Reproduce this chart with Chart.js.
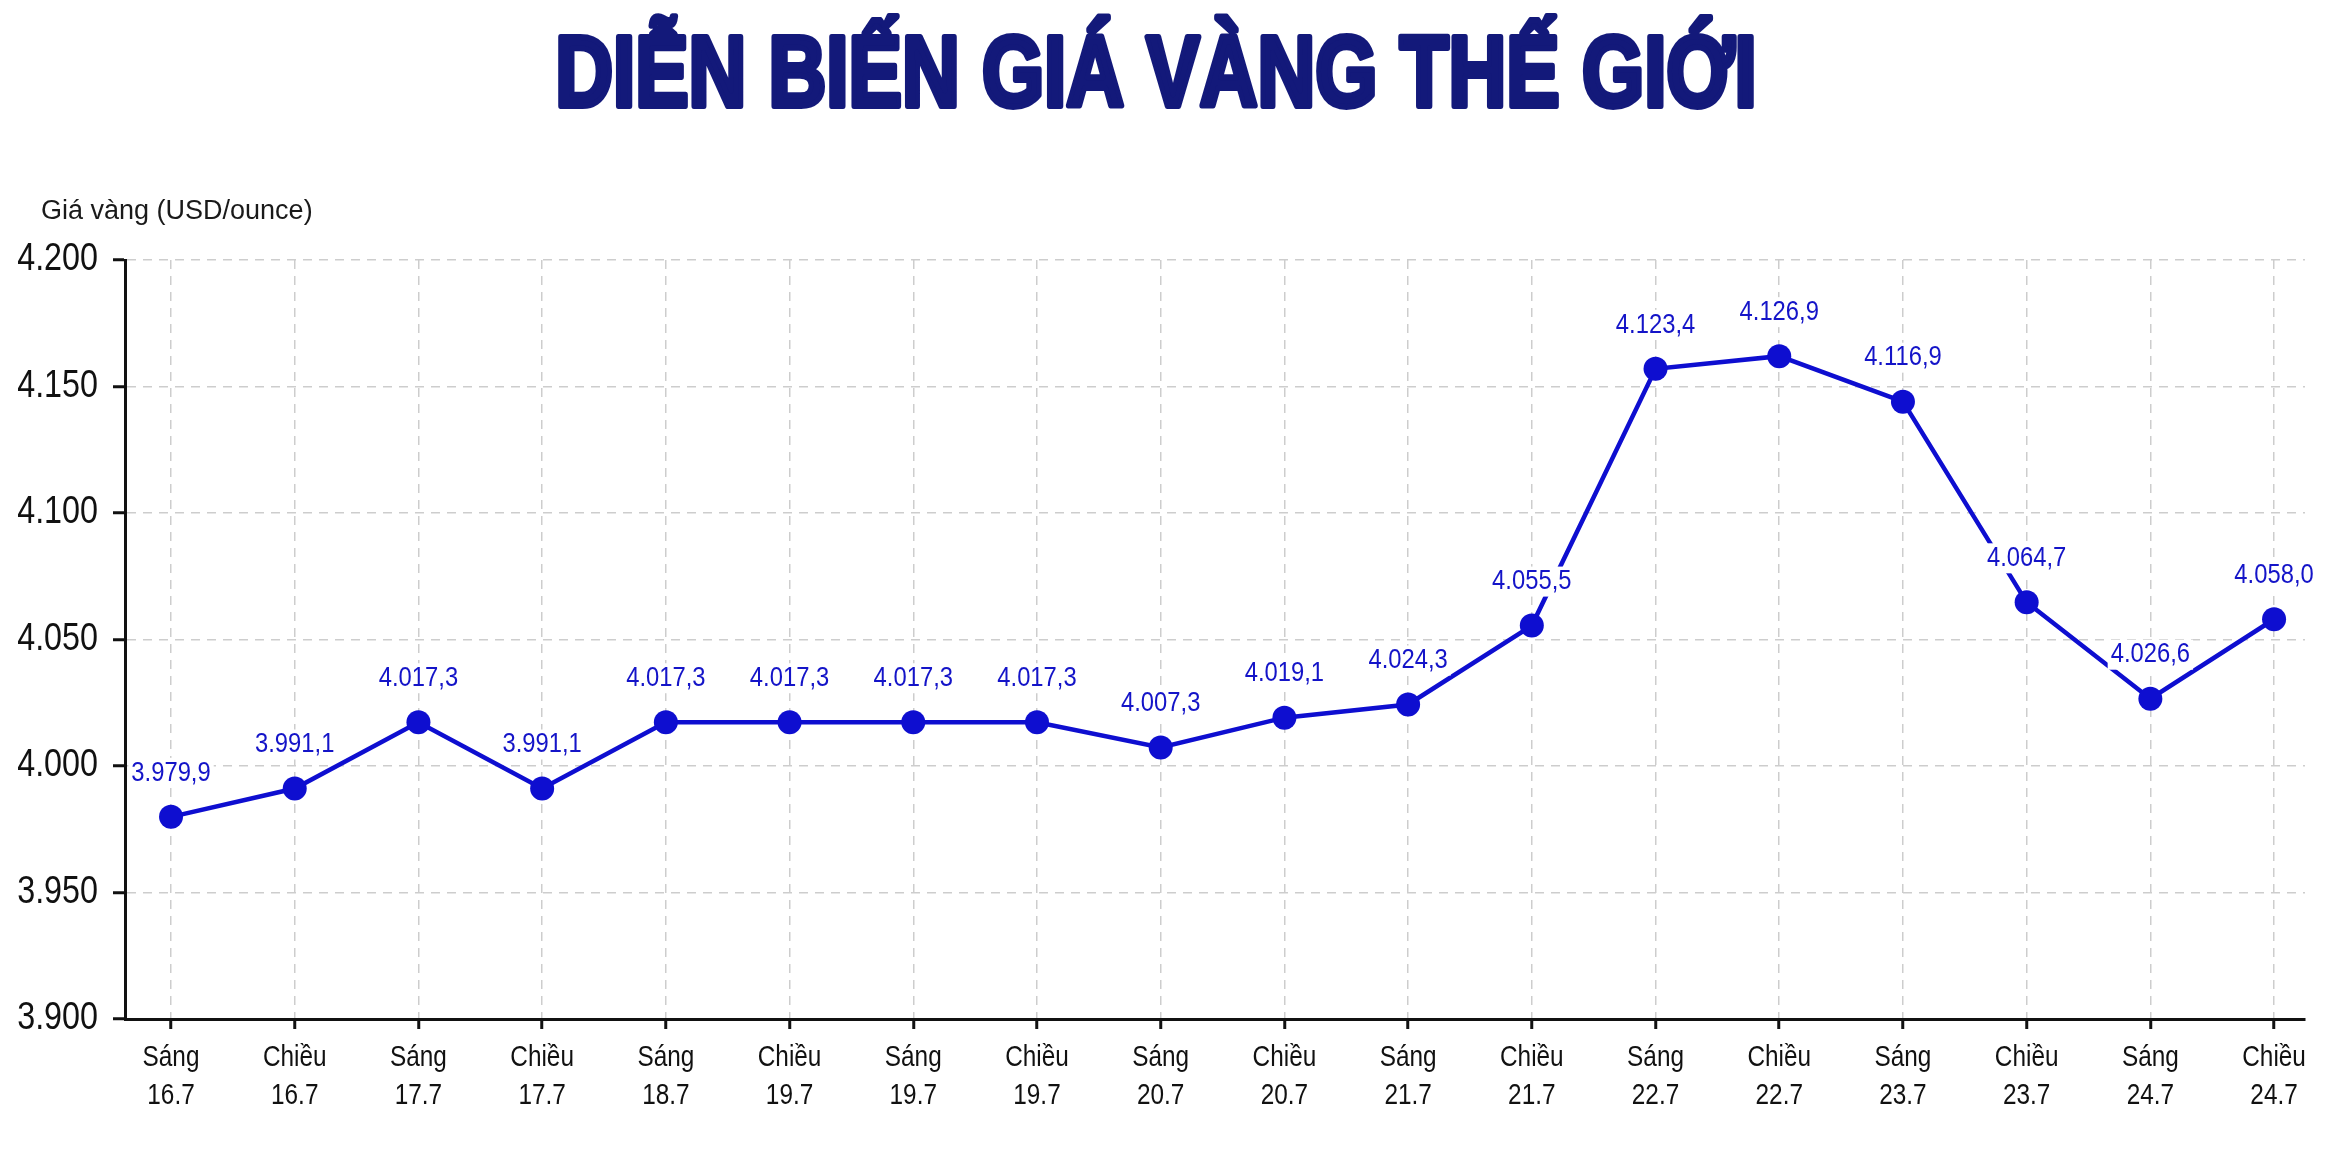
<!DOCTYPE html>
<html lang="vi">
<head>
<meta charset="utf-8">
<title>Diễn biến giá vàng thế giới</title>
<script src="https://cdn.jsdelivr.net/npm/chart.js@4.4.1/dist/chart.umd.min.js"></script>
<style>
  html, body { margin: 0; padding: 0; background: #fff; }
  #wrap { width: 2332px; height: 1150px; }
</style>
</head>
<body>
<div id="wrap"><canvas id="chart" width="2332" height="1150"></canvas></div>
<script>
// --- du lieu ---
const tieuDe = 'DIỄN BIẾN GIÁ VÀNG THẾ GIỚI';
const donVi = 'Giá vàng (USD/ounce)';
const buoi = ['Sáng', 'Chiều', 'Sáng', 'Chiều', 'Sáng', 'Chiều', 'Sáng', 'Chiều', 'Sáng',
              'Chiều', 'Sáng', 'Chiều', 'Sáng', 'Chiều', 'Sáng', 'Chiều', 'Sáng', 'Chiều'];
const ngay = ['16.7', '16.7', '17.7', '17.7', '18.7', '19.7', '19.7', '19.7', '20.7',
              '20.7', '21.7', '21.7', '22.7', '22.7', '23.7', '23.7', '24.7', '24.7'];
// vi tri cac diem doc tu hinh (3 diem dinh nam cao hon nhan in tren hinh)
const giaVang = [3979.9, 3991.1, 4017.3, 3991.1, 4017.3, 4017.3, 4017.3, 4017.3, 4007.3,
                 4019.1, 4024.3, 4055.5, 4157.0, 4162.0, 4144.0, 4064.7, 4026.6, 4058.0];
// nhan gia in tren hinh
const nhanGia = ['3.979,9', '3.991,1', '4.017,3', '3.991,1', '4.017,3', '4.017,3', '4.017,3', '4.017,3', '4.007,3',
                 '4.019,1', '4.024,3', '4.055,5', '4.123,4', '4.126,9', '4.116,9', '4.064,7', '4.026,6', '4.058,0'];
const yMin = 3900;
const yMax = 4200;
const yBuoc = 50;

const SANS = '"Liberation Sans", Arial, sans-serif';
const XANH = '#0e0ed0';

function dinhDang(v) {
    return String(v).replace(/\B(?=(\d{3})+(?!\d))/g, '.');
}

// chu hep (khong co font Arial Narrow nen ep ngang)
function veChuHep(ctx, text, x, y, sx) {
    ctx.save();
    ctx.translate(x, y);
    ctx.scale(sx, 1);
    ctx.fillText(text, 0, 0);
    ctx.restore();
}

// ve nhan gia phia tren moi diem
const nhanDiem = {
    id: 'nhanDiem',
    afterDatasetsDraw(chart) {
        const ctx = chart.ctx;
        const meta = chart.getDatasetMeta(0);
        ctx.save();
        ctx.font = '28px ' + SANS;
        ctx.textAlign = 'center';
        ctx.textBaseline = 'middle';
        meta.data.forEach((pt, i) => {
            const text = nhanGia[i];
            const w = ctx.measureText(text).width * 0.85;
            const y = pt.y - 44;
            ctx.fillStyle = '#fff';
            ctx.fillRect(pt.x - w / 2 - 3, y - 15, w + 6, 30);
            ctx.fillStyle = '#1414c8';
            veChuHep(ctx, text, pt.x, y, 0.85);
        });
        ctx.restore();
    }
};

// nhan truc (ve lai bang chu hep)
const nhanTruc = {
    id: 'nhanTruc',
    afterDraw(chart) {
        const ctx = chart.ctx;
        const sx = chart.scales.x;
        const sy = chart.scales.y;
        ctx.save();
        ctx.fillStyle = '#111';
        ctx.textBaseline = 'middle';

        ctx.font = '38px ' + SANS;
        ctx.textAlign = 'right';
        sy.ticks.forEach(t => {
            veChuHep(ctx, dinhDang(t.value), sy.right - 27, sy.getPixelForValue(t.value), 0.85);
        });

        ctx.font = '29px ' + SANS;
        ctx.textAlign = 'center';
        sx.ticks.forEach(t => {
            const i = t.value;
            if (!Number.isInteger(i) || !buoi[i]) return;
            const px = sx.getPixelForValue(i);
            veChuHep(ctx, buoi[i], px, sx.top + 39, 0.84);
            veChuHep(ctx, ngay[i], px, sx.top + 77, 0.84);
        });
        ctx.restore();
    }
};

// tieu de + don vi truc tung
const tieuDePlugin = {
    id: 'tieuDe',
    afterDraw(chart) {
        const ctx = chart.ctx;
        const area = chart.chartArea;
        ctx.save();
        ctx.font = 'bold 100px ' + SANS;
        ctx.textAlign = 'center';
        ctx.textBaseline = 'alphabetic';
        ctx.fillStyle = '#13197a';
        ctx.strokeStyle = '#13197a';
        ctx.lineWidth = 6;
        ctx.lineJoin = 'round';
        ctx.translate(chart.width / 2 - 10, 106);
        ctx.scale(0.8, 1);
        ctx.fillText(tieuDe, 0, 0);
        ctx.strokeText(tieuDe, 0, 0);
        ctx.restore();

        ctx.save();
        ctx.font = '27px ' + SANS;
        ctx.textAlign = 'left';
        ctx.textBaseline = 'middle';
        ctx.fillStyle = '#1a1a1a';
        ctx.fillText(donVi, area.left - 84, area.top - 48);
        ctx.restore();
    }
};

const ctx = document.getElementById('chart').getContext('2d');
new Chart(ctx, {
    type: 'line',
    data: {
        datasets: [{
            data: giaVang.map((v, i) => ({ x: i, y: v })),
            borderColor: XANH,
            borderWidth: 4.5,
            pointRadius: 12,
            pointBackgroundColor: XANH,
            pointBorderWidth: 0,
            tension: 0,
            clip: false
        }]
    },
    options: {
        responsive: false,
        animation: false,
        devicePixelRatio: 1,
        layout: {
            padding: { top: 260, right: 27, bottom: 0, left: 0 }
        },
        plugins: {
            legend: { display: false },
            tooltip: { enabled: false },
            title: { display: false }
        },
        scales: {
            x: {
                type: 'linear',
                min: -0.372,
                max: 17.25,
                ticks: {
                    display: false,
                    stepSize: 1,
                    includeBounds: false,
                    autoSkip: false
                },
                grid: {
                    color: '#cdcdcd',
                    lineWidth: 1.5,
                    tickColor: '#111',
                    tickWidth: 3,
                    tickLength: 10
                },
                border: { color: '#111', width: 3, dash: [9, 7] },
                afterFit: (s) => { s.height = 131; }
            },
            y: {
                min: yMin,
                max: yMax,
                ticks: {
                    display: false,
                    stepSize: yBuoc
                },
                grid: {
                    color: '#cdcdcd',
                    lineWidth: 1.5,
                    tickColor: '#111',
                    tickWidth: 3,
                    tickLength: 12
                },
                border: { color: '#111', width: 3, dash: [9, 7] },
                afterFit: (s) => { s.width = 125; }
            }
        }
    },
    plugins: [nhanDiem, nhanTruc, tieuDePlugin]
});
</script>
</body>
</html>
